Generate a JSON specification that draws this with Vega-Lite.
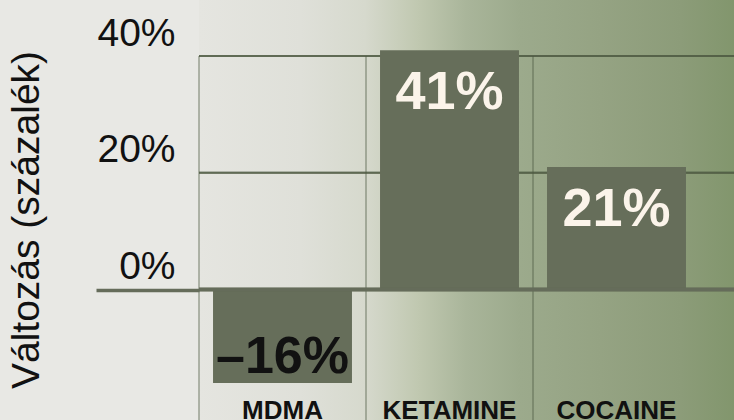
{
  "$schema": "https://vega.github.io/schema/vega-lite/v6.json",
  "width": 535,
  "height": 327,
  "autosize": {"type": "none"},
  "padding": {"left": 199, "top": 56, "right": 0, "bottom": 37},
  "background": "#e8e8e4",
  "config": {"view": {"stroke": null}, "font": "Liberation Sans"},
  "data": {"values": [
    {"drug": "MDMA", "change": -16, "label": "–16%"},
    {"drug": "KETAMINE", "change": 41, "label": "41%"},
    {"drug": "COCAINE", "change": 21, "label": "21%"}
  ]},
  "layer": [
    {
      "data": {"values": [{}]},
      "mark": {"type": "rect", "fill": {"gradient": "linear", "x1": 0, "y1": 0, "x2": 1, "y2": 0, "stops": [
        {"offset": 0, "color": "#e5e5e0"},
        {"offset": 0.19, "color": "#dfe0d9"},
        {"offset": 0.31, "color": "#d6d9cd"},
        {"offset": 0.41, "color": "#c0c8b0"},
        {"offset": 0.5, "color": "#a9b59a"},
        {"offset": 0.6, "color": "#9caa8c"},
        {"offset": 0.75, "color": "#95a383"},
        {"offset": 0.9, "color": "#8c9c79"},
        {"offset": 1, "color": "#82966d"}
      ]}},
      "encoding": {
        "y": {"datum": 52},
        "y2": {"datum": -24}
      }
    },
    {
      "mark": {"type": "rule", "stroke": "#4d5a42", "strokeOpacity": 0.5, "strokeWidth": 2},
      "encoding": {"y": {"datum": 40}}
    },
    {
      "mark": {"type": "rule", "stroke": "#4d5a42", "strokeOpacity": 0.5, "strokeWidth": 2},
      "encoding": {"y": {"datum": 20}}
    },
    {
      "mark": {"type": "rule", "stroke": "#4d5a42", "strokeOpacity": 0.38, "strokeWidth": 2},
      "encoding": {
        "x": {"field": "drug", "type": "nominal", "sort": null, "bandPosition": 0},
        "y": {"datum": 40},
        "y2": {"datum": -24}
      }
    },
    {
      "mark": {"type": "bar", "color": "#666e5a", "opacity": 1, "width": {"band": 0.832}},
      "encoding": {
        "x": {
          "field": "drug", "type": "nominal", "sort": null,
          "scale": {"paddingInner": 0, "paddingOuter": 0.1018, "align": 0},
          "axis": {
            "title": null, "domain": false, "ticks": false, "grid": false, "zindex": 1,
            "labelAngle": 0, "labelAlign": "center", "labelFont": "Liberation Sans", "labelFontSize": 26, "labelFontWeight": "bold",
            "labelColor": "#111111", "labelBaseline": "top", "labelPadding": 14
          }
        },
        "y": {
          "field": "change", "type": "quantitative",
          "scale": {"domain": [-16, 40], "nice": false},
          "axis": {
            "title": "Változás (százalék)", "titleFont": "Liberation Sans", "titleFontSize": 39,
            "titleFontWeight": "normal", "titleColor": "#111111", "titlePadding": 48,
            "values": [0, 20, 40], "labelExpr": "datum.value + '%'",
            "labelFont": "Liberation Sans", "labelFontSize": 39, "labelColor": "#111111",
            "labelPadding": -79, "labelBaseline": "alphabetic", "labelOffset": -11, "labelAlign": "right",
            "labelOverlap": false, "labelFlush": false,
            "domain": false, "grid": false, "zindex": 1,
            "ticks": true, "tickSize": 103, "tickWidth": 3.5,
            "tickColor": {"condition": {"test": "datum.value === 0", "value": "#656c5a"}, "value": "transparent"}
          }
        }
      }
    },
    {
      "mark": {"type": "rule", "stroke": "#656c5a", "strokeWidth": 3.5},
      "encoding": {"y": {"datum": 0}}
    },
    {
      "transform": [{"filter": "datum.change > 0"}],
      "mark": {"type": "text", "font": "Liberation Sans", "fontWeight": "bold", "fontSize": 54, "baseline": "alphabetic", "dy": 59, "fill": "#fbf4ea"},
      "encoding": {
        "x": {"field": "drug", "type": "nominal", "sort": null},
        "y": {"field": "change", "type": "quantitative"},
        "text": {"field": "label"}
      }
    },
    {
      "transform": [{"filter": "datum.change < 0"}],
      "mark": {"type": "text", "font": "Liberation Sans", "fontWeight": "bold", "fontSize": 52, "baseline": "alphabetic", "dy": -10, "fill": "#111111"},
      "encoding": {
        "x": {"field": "drug", "type": "nominal", "sort": null},
        "y": {"field": "change", "type": "quantitative"},
        "text": {"field": "label"}
      }
    }
  ]
}
